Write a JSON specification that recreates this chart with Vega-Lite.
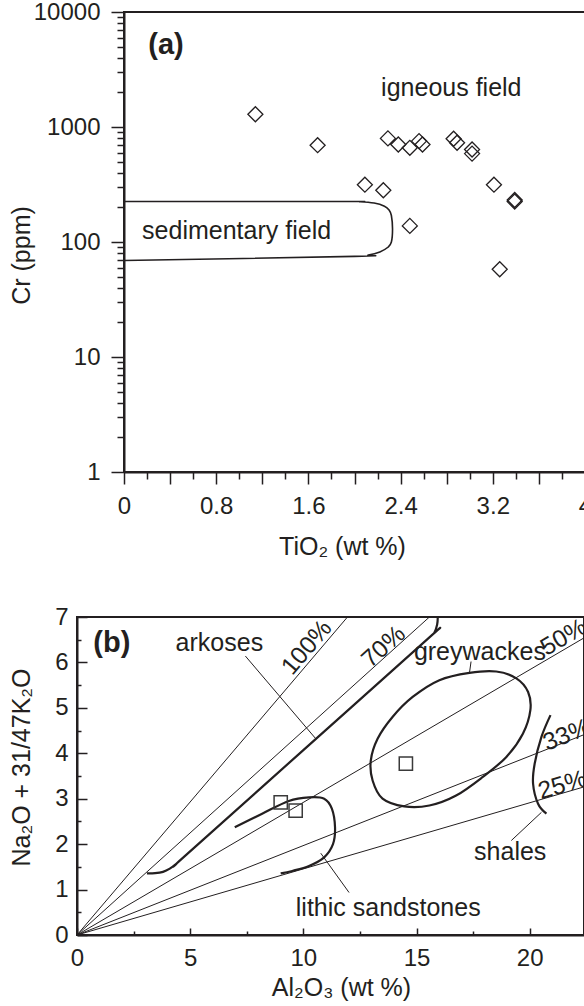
{
  "$schema": "https://vega.github.io/schema/vega-lite/v6.json",
  "background": "white",
  "padding": {"left": 7, "top": 0, "right": 0, "bottom": 0},
  "spacing": 45,
  "config": {
    "font": "Liberation Sans",
    "view": {"stroke": "#231f20", "strokeWidth": 2},
    "axis": {
      "grid": false, "domainColor": "#231f20", "domainWidth": 2,
      "tickColor": "#231f20", "tickWidth": 1.5,
      "labelColor": "#231f20", "labelFontSize": 24, "labelFont": "Liberation Sans",
      "titleFont": "Liberation Sans", "titleFontSize": 25, "titleFontWeight": "normal", "titleColor": "#231f20",
      "labelFlush": false, "labelOverlap": false
    },
    "text": {"font": "Liberation Sans", "fontSize": 25, "color": "#231f20"}
  },
  "datasets": {
    "frameA": [{"x": 0, "x2": 4, "y": 1, "y2": 10000}],
    "sed": [
      {"o": 1, "x": 0, "y": 225}, {"o": 2, "x": 1.9, "y": 225}, {"o": 3, "x": 2.05, "y": 224},
      {"o": 4, "x": 2.17, "y": 218}, {"o": 5, "x": 2.26, "y": 205}, {"o": 6, "x": 2.3, "y": 190},
      {"o": 7, "x": 2.32, "y": 170}, {"o": 8, "x": 2.33, "y": 130}, {"o": 9, "x": 2.32, "y": 100},
      {"o": 10, "x": 2.29, "y": 90}, {"o": 11, "x": 2.22, "y": 82}, {"o": 12, "x": 2.12, "y": 77},
      {"o": 13, "x": 2.0, "y": 75}, {"o": 14, "x": 0, "y": 69}
    ],
    "ptsA": [
      {"x": 1.14, "y": 1290}, {"x": 1.68, "y": 695}, {"x": 2.09, "y": 315}, {"x": 2.25, "y": 282},
      {"x": 2.29, "y": 796}, {"x": 2.38, "y": 705}, {"x": 2.48, "y": 659}, {"x": 2.56, "y": 754},
      {"x": 2.59, "y": 705}, {"x": 2.86, "y": 791}, {"x": 2.89, "y": 730}, {"x": 3.02, "y": 637},
      {"x": 3.02, "y": 587}, {"x": 3.21, "y": 315}, {"x": 3.39, "y": 232}, {"x": 3.39, "y": 225},
      {"x": 2.48, "y": 138}, {"x": 3.26, "y": 58}
    ],
    "txtA": [
      {"t": "(a)", "x": 0.364, "y": 4340},
      {"t": "igneous field", "x": 2.84, "y": 1845},
      {"t": "sedimentary field", "x": 0.977, "y": 106}
    ],
    "thin": [
      {"id": "p100", "o": 1, "x": 0, "y": 0}, {"id": "p100", "o": 2, "x": 11.95, "y": 7},
      {"id": "p70", "o": 1, "x": 0, "y": 0}, {"id": "p70", "o": 2, "x": 15.57, "y": 7},
      {"id": "p50", "o": 1, "x": 0, "y": 0}, {"id": "p50", "o": 2, "x": 22.4, "y": 6.54},
      {"id": "p33", "o": 1, "x": 0, "y": 0}, {"id": "p33", "o": 2, "x": 22.4, "y": 4.41},
      {"id": "p25", "o": 1, "x": 0, "y": 0}, {"id": "p25", "o": 2, "x": 22.4, "y": 3.26},
      {"id": "ark", "o": 1, "x": 7.44, "y": 6.14}, {"id": "ark", "o": 2, "x": 10.55, "y": 4.32},
      {"id": "grey", "o": 1, "x": 17.41, "y": 6.02}, {"id": "grey", "o": 2, "x": 17.34, "y": 5.77},
      {"id": "lith", "o": 1, "x": 12.02, "y": 0.935}, {"id": "lith", "o": 2, "x": 10.77, "y": 1.8},
      {"id": "sh", "o": 1, "x": 19.19, "y": 2.08}, {"id": "sh", "o": 2, "x": 20.52, "y": 2.7}
    ],
    "thick": [
      {"id": "ark", "o": 1, "x": 3.09, "y": 1.355}, {"id": "ark", "o": 2, "x": 3.45, "y": 1.36},
      {"id": "ark", "o": 3, "x": 3.8, "y": 1.39}, {"id": "ark", "o": 4, "x": 4.1, "y": 1.46},
      {"id": "ark", "o": 5, "x": 4.4, "y": 1.57}, {"id": "ark", "o": 6, "x": 4.75, "y": 1.73},
      {"id": "ark", "o": 7, "x": 10.0, "y": 4.07}, {"id": "ark", "o": 8, "x": 15.57, "y": 6.55},
      {"id": "ark", "o": 9, "x": 15.79, "y": 6.66}, {"id": "ark", "o": 10, "x": 15.91, "y": 6.83},
      {"id": "ark", "o": 11, "x": 15.94, "y": 7.0},
      {"id": "lith", "o": 1, "x": 6.97, "y": 2.37}, {"id": "lith", "o": 2, "x": 8.18, "y": 2.67},
      {"id": "lith", "o": 3, "x": 9.36, "y": 2.95}, {"id": "lith", "o": 4, "x": 10.25, "y": 3.03},
      {"id": "lith", "o": 5, "x": 10.92, "y": 3.0}, {"id": "lith", "o": 6, "x": 11.26, "y": 2.78},
      {"id": "lith", "o": 7, "x": 11.4, "y": 2.37}, {"id": "lith", "o": 8, "x": 11.31, "y": 2.0},
      {"id": "lith", "o": 9, "x": 10.92, "y": 1.71}, {"id": "lith", "o": 10, "x": 10.25, "y": 1.52},
      {"id": "lith", "o": 11, "x": 9.51, "y": 1.41}, {"id": "lith", "o": 12, "x": 9.0, "y": 1.355},
      {"id": "sh", "o": 1, "x": 20.92, "y": 4.84}, {"id": "sh", "o": 2, "x": 20.52, "y": 4.36},
      {"id": "sh", "o": 3, "x": 20.22, "y": 3.77}, {"id": "sh", "o": 4, "x": 20.15, "y": 3.33},
      {"id": "sh", "o": 5, "x": 20.37, "y": 2.89}, {"id": "sh", "o": 6, "x": 20.74, "y": 2.67}
    ],
    "ellipse": [
      {"o": 1, "x": 17.34, "y": 5.77}, {"o": 2, "x": 18.52, "y": 5.8}, {"o": 3, "x": 19.41, "y": 5.65},
      {"o": 4, "x": 19.93, "y": 5.35}, {"o": 5, "x": 20.03, "y": 4.95}, {"o": 6, "x": 19.7, "y": 4.43},
      {"o": 7, "x": 18.97, "y": 3.92}, {"o": 8, "x": 17.93, "y": 3.48}, {"o": 9, "x": 16.75, "y": 3.07},
      {"o": 10, "x": 15.57, "y": 2.85}, {"o": 11, "x": 14.46, "y": 2.83}, {"o": 12, "x": 13.5, "y": 3.0},
      {"o": 13, "x": 13.06, "y": 3.4}, {"o": 14, "x": 12.98, "y": 3.84}, {"o": 15, "x": 13.28, "y": 4.32},
      {"o": 16, "x": 13.94, "y": 4.8}, {"o": 17, "x": 14.83, "y": 5.24}, {"o": 18, "x": 16.01, "y": 5.61}
    ],
    "ptsB": [
      {"x": 9.0, "y": 2.92}, {"x": 9.66, "y": 2.74}, {"x": 14.53, "y": 3.77}
    ],
    "txtB": [
      {"t": "(b)", "x": 1.54, "y": 6.22},
      {"t": "arkoses", "x": 6.29, "y": 6.26},
      {"t": "greywackes", "x": 17.8, "y": 6.05},
      {"t": "shales", "x": 19.14, "y": 1.65},
      {"t": "lithic sandstones", "x": 13.75, "y": 0.42},
      {"t": "100%", "x": 10.41, "y": 6.22},
      {"t": "70%", "x": 13.77, "y": 6.22},
      {"t": "50%", "x": 21.68, "y": 6.41},
      {"t": "33%", "x": 21.77, "y": 4.25},
      {"t": "25%", "x": 21.54, "y": 3.14}
    ]
  },
  "vconcat": [
    {
      "width": 508,
      "height": 460,
      "view": {"stroke": null},
      "encoding": {
        "x": {
          "field": "x", "type": "quantitative",
          "scale": {"domain": [0, 4], "range": [47, 508], "nice": false, "zero": false},
          "axis": {
            "title": "TiO₂ (wt %)",
            "values": [0, 0.2, 0.4, 0.6, 0.8, 1, 1.2, 1.4, 1.6, 1.8, 2, 2.2, 2.4, 2.6, 2.8, 3, 3.2, 3.4, 3.6, 3.8, 4],
            "labelExpr": "round(datum.value*10) % 8 == 0 ? format(datum.value, '~g') : ''",
            "tickSize": {"condition": {"test": "round(datum.value*10) % 4 == 0", "value": 12}, "value": 7},
            "labelPadding": 10,
            "titleX": 265,
            "titleY": 62
          }
        },
        "y": {
          "field": "y", "type": "quantitative",
          "scale": {"type": "log", "domain": [1, 10000], "nice": false},
          "axis": {
            "title": "Cr (ppm)",
            "offset": -47,
            "values": [1, 2, 3, 4, 5, 6, 7, 8, 9, 10, 20, 30, 40, 50, 60, 70, 80, 90, 100, 200, 300, 400, 500, 600, 700, 800, 900, 1000, 2000, 3000, 4000, 5000, 6000, 7000, 8000, 9000, 10000],
            "labelExpr": "indexof([1,10,100,1000,10000], datum.value) >= 0 ? format(datum.value, 'd') : ''",
            "tickSize": {"condition": {"test": "indexof([1,10,100,1000,10000], datum.value) >= 0", "value": 13}, "value": 7},
            "labelPadding": 11,
            "titleX": -90,
            "titleY": 243
          }
        }
      },
      "layer": [
        {
          "data": {"name": "frameA"},
          "mark": {"type": "rect", "fill": "white", "fillOpacity": 0, "stroke": "#231f20", "strokeWidth": 2},
          "encoding": {"x2": {"field": "x2"}, "y2": {"field": "y2"}}
        },
        {
          "data": {"name": "sed"},
          "mark": {"type": "line", "interpolate": "cardinal", "color": "#231f20", "strokeWidth": 1.6},
          "encoding": {"order": {"field": "o", "type": "quantitative"}}
        },
        {
          "data": {"name": "ptsA"},
          "mark": {"type": "point", "shape": "diamond", "filled": false, "size": 225, "color": "#231f20", "strokeWidth": 1.3, "opacity": 1}
        },
        {
          "data": {"name": "txtA"},
          "transform": [{"filter": "datum.t != '(a)'"}],
          "mark": {"type": "text", "align": "center", "baseline": "alphabetic", "fontSize": 25},
          "encoding": {"text": {"field": "t", "type": "nominal"}}
        },
        {
          "data": {"name": "txtA"},
          "transform": [{"filter": "datum.t == '(a)'"}],
          "mark": {"type": "text", "align": "center", "baseline": "alphabetic", "fontSize": 29, "fontWeight": "bold"},
          "encoding": {"text": {"field": "t", "type": "nominal"}}
        }
      ]
    },
    {
      "width": 507,
      "height": 318,
      "encoding": {
        "x": {
          "field": "x", "type": "quantitative",
          "scale": {"domain": [0, 22.4], "nice": false, "zero": false},
          "axis": {
            "title": "Al₂O₃ (wt %)",
            "values": [0, 2.5, 5, 7.5, 10, 12.5, 15, 17.5, 20],
            "labelExpr": "datum.value % 5 == 0 ? format(datum.value, 'd') : ''",
            "tickSize": {"condition": {"test": "datum.value % 5 == 0", "value": -7}, "value": -4},
            "labelPadding": 18,
            "titleX": 264,
            "titleY": 40
          }
        },
        "y": {
          "field": "y", "type": "quantitative",
          "scale": {"domain": [0, 7], "nice": false, "zero": false},
          "axis": {
            "title": "Na₂O + 31/47K₂O",
            "values": [0, 0.5, 1, 1.5, 2, 2.5, 3, 3.5, 4, 4.5, 5, 5.5, 6, 6.5, 7],
            "labelExpr": "datum.value % 1 == 0 ? format(datum.value, 'd') : ''",
            "tickSize": {"condition": {"test": "datum.value % 1 == 0", "value": -10}, "value": -4},
            "labelPadding": 19,
            "titleX": -43,
            "titleY": 150
          }
        }
      },
      "layer": [
        {
          "data": {"name": "thin"},
          "mark": {"type": "line", "color": "#231f20", "strokeWidth": 1},
          "encoding": {"detail": {"field": "id", "type": "nominal"}, "order": {"field": "o", "type": "quantitative"}}
        },
        {
          "data": {"name": "thick"},
          "mark": {"type": "line", "interpolate": "cardinal", "color": "#231f20", "strokeWidth": 2.2},
          "encoding": {"detail": {"field": "id", "type": "nominal"}, "order": {"field": "o", "type": "quantitative"}}
        },
        {
          "data": {"name": "ellipse"},
          "mark": {"type": "line", "interpolate": "cardinal-closed", "color": "#231f20", "strokeWidth": 2.2},
          "encoding": {"order": {"field": "o", "type": "quantitative"}}
        },
        {
          "data": {"name": "ptsB"},
          "mark": {"type": "point", "shape": "square", "filled": false, "size": 175, "color": "#3a3a3a", "strokeWidth": 1.5, "opacity": 1}
        },
        {
          "data": {"name": "txtB"},
          "transform": [{"filter": "indexof(['arkoses','greywackes','shales','lithic sandstones'], datum.t) >= 0"}],
          "mark": {"type": "text", "align": "center", "baseline": "alphabetic", "fontSize": 25},
          "encoding": {"text": {"field": "t", "type": "nominal"}}
        },
        {
          "data": {"name": "txtB"},
          "transform": [{"filter": "datum.t == '(b)'"}],
          "mark": {"type": "text", "align": "center", "baseline": "alphabetic", "fontSize": 29, "fontWeight": "bold"},
          "encoding": {"text": {"field": "t", "type": "nominal"}}
        },
        {
          "data": {"name": "txtB"},
          "transform": [{"filter": "datum.t == '100%'"}],
          "mark": {"type": "text", "align": "center", "baseline": "alphabetic", "fontSize": 24.5, "angle": 310.5},
          "encoding": {"text": {"field": "t", "type": "nominal"}}
        },
        {
          "data": {"name": "txtB"},
          "transform": [{"filter": "datum.t == '70%'"}],
          "mark": {"type": "text", "align": "center", "baseline": "alphabetic", "fontSize": 24.5, "angle": 318},
          "encoding": {"text": {"field": "t", "type": "nominal"}}
        },
        {
          "data": {"name": "txtB"},
          "transform": [{"filter": "datum.t == '50%'"}],
          "mark": {"type": "text", "align": "center", "baseline": "alphabetic", "fontSize": 24.5, "angle": 329.7},
          "encoding": {"text": {"field": "t", "type": "nominal"}}
        },
        {
          "data": {"name": "txtB"},
          "transform": [{"filter": "datum.t == '33%'"}],
          "mark": {"type": "text", "align": "center", "baseline": "alphabetic", "fontSize": 24.5, "angle": 338.5},
          "encoding": {"text": {"field": "t", "type": "nominal"}}
        },
        {
          "data": {"name": "txtB"},
          "transform": [{"filter": "datum.t == '25%'"}],
          "mark": {"type": "text", "align": "center", "baseline": "alphabetic", "fontSize": 24.5, "angle": 343.7},
          "encoding": {"text": {"field": "t", "type": "nominal"}}
        }
      ]
    }
  ]
}
